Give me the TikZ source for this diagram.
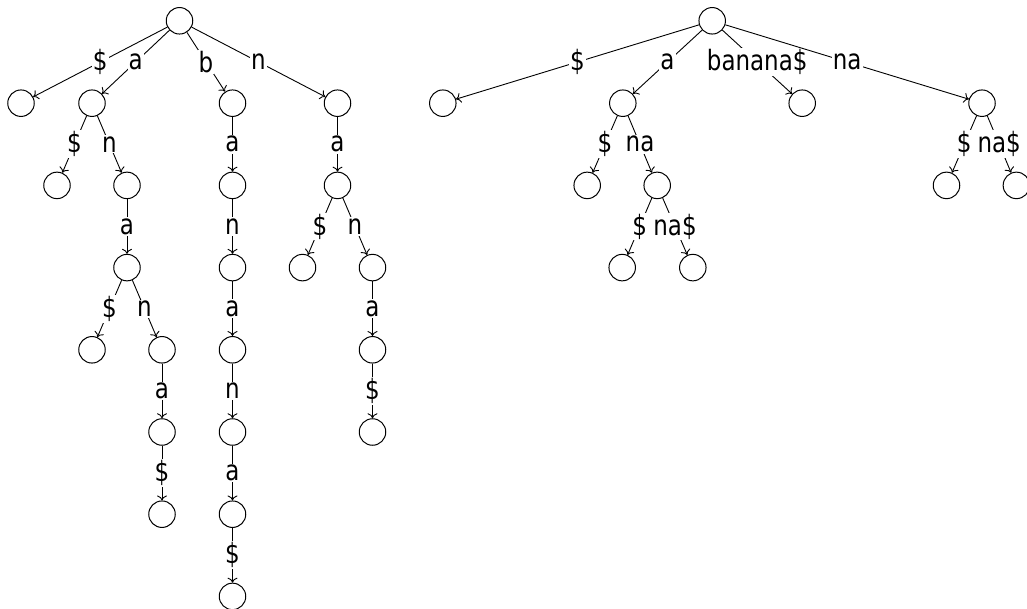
\documentclass[tikz,border=0pt]{standalone}
\usepackage{fontspec}
\setmainfont[FakeStretch=0.82]{DejaVu Sans}
\usetikzlibrary{arrows.meta}
\begin{document}
\begin{tikzpicture}[x=1pt,y=-1pt,
  st/.style={circle,draw,line width=1pt,minimum size=26.5pt,inner sep=0pt},
  ed/.style={-{To[length=5pt,width=10pt]},line width=0.9pt},
  lb/.style={fill=white,inner sep=1.2pt,font=\fontsize{28}{31}\selectfont}]
\useasboundingbox (0,0) rectangle (1027,609);
% left tree (suffix trie)
\node[st] (l0) at (179.5,20.8) {};
\node[st] (l1) at (21,103.2) {};
\node[st] (l2) at (92,103.2) {};
\node[st] (l3) at (232.5,103.2) {};
\node[st] (l4) at (337.5,103.2) {};
\node[st] (l5) at (57,185.4) {};
\node[st] (l6) at (127,185.4) {};
\node[st] (l7) at (127,267.6) {};
\node[st] (l8) at (92,349.8) {};
\node[st] (l9) at (162,349.8) {};
\node[st] (l10) at (162,432) {};
\node[st] (l11) at (162,514.2) {};
\node[st] (b1) at (232.5,185.4) {};
\node[st] (b2) at (232.5,267.6) {};
\node[st] (b3) at (232.5,349.8) {};
\node[st] (b4) at (232.5,432) {};
\node[st] (b5) at (232.5,514.2) {};
\node[st] (b6) at (232.5,596.4) {};
\node[st] (n1) at (337.5,185.4) {};
\node[st] (n2) at (302.5,267.6) {};
\node[st] (n3) at (372.5,267.6) {};
\node[st] (n4) at (372.5,349.8) {};
\node[st] (n5) at (372.5,432) {};
\draw[ed] (l0) -- node[lb]{\$} (l1);
\draw[ed] (l0) -- node[lb]{a} (l2);
\draw[ed] (l0) -- node[lb]{b} (l3);
\draw[ed] (l0) -- node[lb]{n} (l4);
\draw[ed] (l2) -- node[lb]{\$} (l5);
\draw[ed] (l2) -- node[lb]{n} (l6);
\draw[ed] (l6) -- node[lb]{a} (l7);
\draw[ed] (l7) -- node[lb]{\$} (l8);
\draw[ed] (l7) -- node[lb]{n} (l9);
\draw[ed] (l9) -- node[lb]{a} (l10);
\draw[ed] (l10) -- node[lb]{\$} (l11);
\draw[ed] (l3) -- node[lb]{a} (b1);
\draw[ed] (b1) -- node[lb]{n} (b2);
\draw[ed] (b2) -- node[lb]{a} (b3);
\draw[ed] (b3) -- node[lb]{n} (b4);
\draw[ed] (b4) -- node[lb]{a} (b5);
\draw[ed] (b5) -- node[lb]{\$} (b6);
\draw[ed] (l4) -- node[lb]{a} (n1);
\draw[ed] (n1) -- node[lb]{\$} (n2);
\draw[ed] (n1) -- node[lb]{n} (n3);
\draw[ed] (n3) -- node[lb]{a} (n4);
\draw[ed] (n4) -- node[lb]{\$} (n5);
% right tree (suffix tree)
\node[st] (r0) at (712.2,20.8) {};
\node[st] (r1) at (442.8,103.2) {};
\node[st] (r2) at (622.8,103.2) {};
\node[st] (r3) at (802.2,103.2) {};
\node[st] (r4) at (982,103.2) {};
\node[st] (r5) at (587.2,185.4) {};
\node[st] (r6) at (657.2,185.4) {};
\node[st] (r7) at (622.2,267.6) {};
\node[st] (r8) at (692.8,267.6) {};
\node[st] (r9) at (946.5,185.4) {};
\node[st] (r10) at (1016.4,185.4) {};
\draw[ed] (r0) -- node[lb]{\$} (r1);
\draw[ed] (r0) -- node[lb]{a} (r2);
\draw[ed] (r0) -- node[lb]{banana\$} (r3);
\draw[ed] (r0) -- node[lb]{na} (r4);
\draw[ed] (r2) -- node[lb]{\$} (r5);
\draw[ed] (r2) -- node[lb]{na} (r6);
\draw[ed] (r6) -- node[lb]{\$} (r7);
\draw[ed] (r6) -- node[lb]{na\$} (r8);
\draw[ed] (r4) -- node[lb]{\$} (r9);
\draw[ed] (r4) -- node[lb]{na\$} (r10);
\end{tikzpicture}
\end{document}
